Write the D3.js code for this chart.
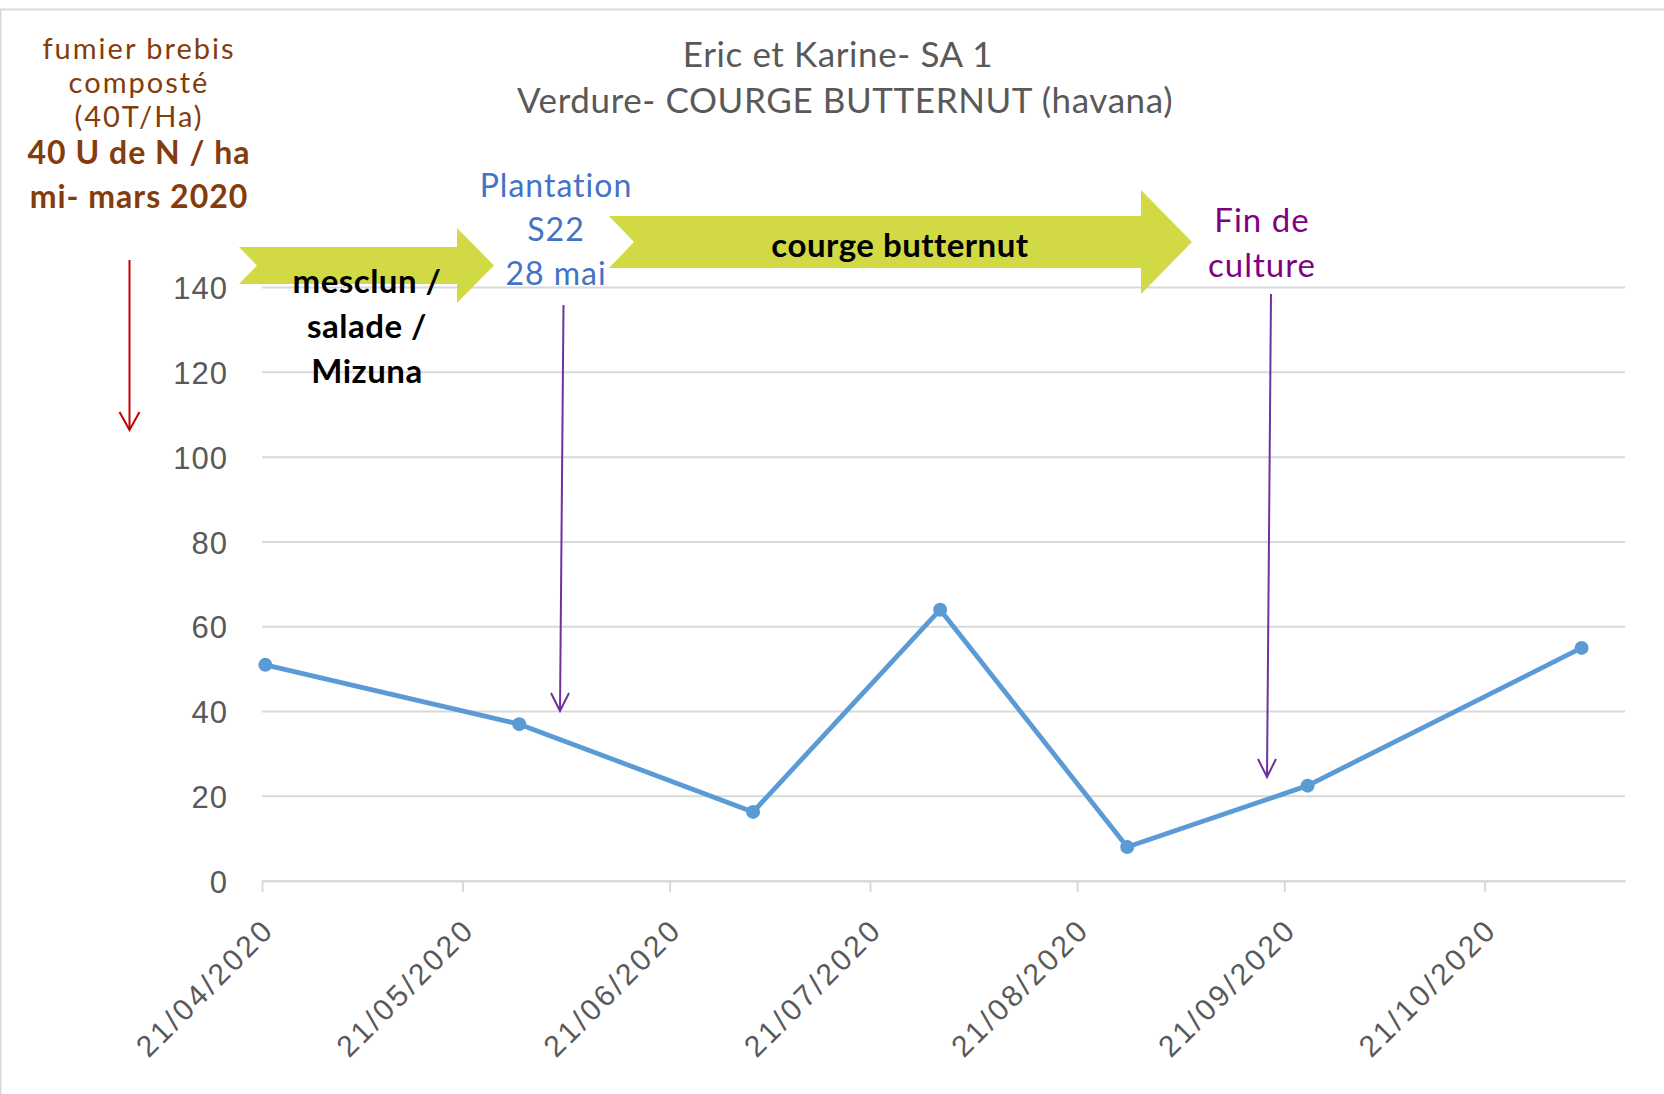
<!DOCTYPE html>
<html>
<head>
<meta charset="utf-8">
<script src="https://cdn.jsdelivr.net/npm/d3@7"></script>
<style>
  body { margin: 0; background: #fff; }
  svg { display: block; font-family: Lato, "Open Sans", sans-serif; }
</style>
</head>
<body>
<div id="chart"></div>
<script>
// Data
const dates = ['21/04/2020', '29/05/2020', '03/07/2020', '31/07/2020', '28/08/2020', '24/09/2020', '04/11/2020'];
const values = [51, 37, 16.3, 64, 8, 22.5, 55];
const xTickLabels = ['21/04/2020', '21/05/2020', '21/06/2020', '21/07/2020', '21/08/2020', '21/09/2020', '21/10/2020'];
const yTicks = [0, 20, 40, 60, 80, 100, 120, 140];
const axisEnd = '11/11/2020';

const titleLines = ['Eric et Karine- SA 1', 'Verdure- COURGE BUTTERNUT (havana)'];
const fumierLines = ['fumier brebis', 'composté', '(40T/Ha)'];
const fumierBold = ['40 U de N / ha', 'mi- mars 2020'];
const cultureLines = ['mesclun /', 'salade /', 'Mizuna'];
const plantationLines = ['Plantation', 'S22', '28 mai'];
const finLines = ['Fin de', 'culture'];

const width = 1664;
const height = 1094;
const parse = d3.timeParse('%d/%m/%Y');
const data = dates.map((d, i) => ({ date: parse(d), value: values[i] }));

const svg = d3.select('#chart').append('svg')
  .attr('width', width)
  .attr('height', height);

// border
svg.append('rect')
  .attr('x', 0.5).attr('y', 9.5)
  .attr('width', width + 10).attr('height', height + 10)
  .attr('fill', 'none').attr('stroke', '#d9d9d9').attr('stroke-width', 2);

// Scales
const xScale = d3.scaleTime()
  .domain([parse(xTickLabels[0]), parse(axisEnd)])
  .range([262, 1625]);
const yScale = d3.scaleLinear().domain([0, 140]).range([881, 287.6]);
// points sit in the middle of their day (date axis, between tick marks)
const halfDay = (xScale(d3.timeDay.offset(parse(xTickLabels[0]), 1)) - xScale(parse(xTickLabels[0]))) / 2;

// Grid
svg.append('g')
  .selectAll('line')
  .data(yTicks)
  .enter()
  .append('line')
  .attr('x1', 262).attr('x2', 1625)
  .attr('y1', (d) => yScale(d)).attr('y2', (d) => yScale(d))
  .attr('stroke', '#d9d9d9').attr('stroke-width', 2);

// Y axis
const yAxis = svg.append('g')
  .attr('transform', 'translate(228,0)')
  .call(d3.axisLeft(yScale).tickValues(yTicks).tickSize(0).tickPadding(0));
yAxis.select('.domain').remove();
yAxis.selectAll('text')
  .attr('fill', '#595959')
  .style('font-size', '31px')
  .style('letter-spacing', '1px')
  .attr('dy', '0.36em');

// X axis
const xAxis = svg.append('g')
  .attr('transform', 'translate(0,881)')
  .call(d3.axisBottom(xScale).tickValues(xTickLabels.map(parse)).tickSize(11).tickSizeOuter(0).tickFormat(d3.timeFormat('%d/%m/%Y')));
xAxis.select('.domain').attr('stroke', '#d9d9d9').attr('stroke-width', 2);
xAxis.selectAll('.tick line').attr('stroke', '#d9d9d9').attr('stroke-width', 2);
xAxis.selectAll('text')
  .attr('fill', '#595959')
  .style('font-size', '30px')
  .style('letter-spacing', '3px')
  .attr('text-anchor', 'end')
  .attr('dy', '0.35em')
  .attr('transform', 'translate(6,43) rotate(-45)')
  .attr('y', 0).attr('x', 0);

// Line
const line = d3.line()
  .x((d) => xScale(d.date) + halfDay)
  .y((d) => yScale(d.value));

svg.append('path')
  .datum(data)
  .attr('d', line)
  .attr('fill', 'none')
  .attr('stroke', '#5b9bd5')
  .attr('stroke-width', 4.8)
  .attr('stroke-linejoin', 'round');

svg.selectAll('circle.pt')
  .data(data)
  .enter()
  .append('circle')
  .attr('class', 'pt')
  .attr('cx', (d) => xScale(d.date) + halfDay)
  .attr('cy', (d) => yScale(d.value))
  .attr('r', 7)
  .attr('fill', '#5b9bd5');

// Title
const titleX = [838, 845];
svg.append('text')
  .attr('y', 67)
  .attr('text-anchor', 'middle')
  .attr('fill', '#595959')
  .style('font-size', '35px')
  .style('letter-spacing', '0.6px')
  .selectAll('tspan')
  .data(titleLines)
  .enter()
  .append('tspan')
  .attr('x', (d, i) => titleX[i])
  .attr('dy', (d, i) => (i === 0 ? 0 : 46))
  .text((d) => d);

// Green arrows
function chevron(l, notch, top, bottom, hs, htop, hbottom, tip) {
  const mid = (top + bottom) / 2;
  const tipY = (htop + hbottom) / 2;
  return `M${l},${top}L${hs},${top}L${hs},${htop}L${tip},${tipY}L${hs},${hbottom}L${hs},${bottom}L${l},${bottom}L${notch},${mid}Z`;
}
svg.append('path')
  .attr('d', chevron(239, 257, 247, 284, 457, 228, 303, 494))
  .attr('fill', '#d1d945');
svg.append('path')
  .attr('d', chevron(609, 634, 216, 268, 1141, 190, 294, 1192))
  .attr('fill', '#d1d945');

svg.append('text')
  .attr('x', 900).attr('y', 257)
  .attr('text-anchor', 'middle')
  .attr('fill', '#000')
  .style('font-size', '33px')
  .style('font-weight', 'bold')
  .style('letter-spacing', '0.5px')
  .text('courge butternut');

// text blocks
function block(lines, x, y0, step, color, size, weight, ls) {
  svg.append('g')
    .selectAll('text')
    .data(lines)
    .enter()
    .append('text')
    .attr('x', x)
    .attr('y', (d, i) => y0 + i * step)
    .attr('text-anchor', 'middle')
    .attr('fill', color)
    .style('font-size', size + 'px')
    .style('font-weight', weight)
    .style('letter-spacing', ls + 'px')
    .text((d) => d);
}
block(cultureLines, 367, 293, 45, '#000', 33, 'bold', 0.5);
block(fumierLines, 139, 59, 34, '#843c0c', 29, 'normal', 2);
block(fumierBold, 139, 164, 44, '#843c0c', 32, 'bold', 1);
block(plantationLines, 556, 197, 44, '#4472c4', 32, 'normal', 1);
block(finLines, 1262, 232, 45, '#800080', 33, 'normal', 1);

// thin arrows
function arrow(x1, y1, x2, y2, color, hw, hl) {
  const g = svg.append('g').attr('stroke', color).attr('stroke-width', 2).attr('fill', 'none');
  g.append('line').attr('x1', x1).attr('y1', y1).attr('x2', x2).attr('y2', y2);
  g.append('path').attr('d', `M${x2 - hw},${y2 - hl}L${x2},${y2}L${x2 + hw},${y2 - hl}`);
}
arrow(129.5, 260, 129.5, 430, '#c00000', 10, 18);
arrow(563.5, 305, 560, 711, '#7030a0', 9, 18);
arrow(1271, 294, 1267, 777, '#7030a0', 9, 18);
</script>
</body>
</html>
